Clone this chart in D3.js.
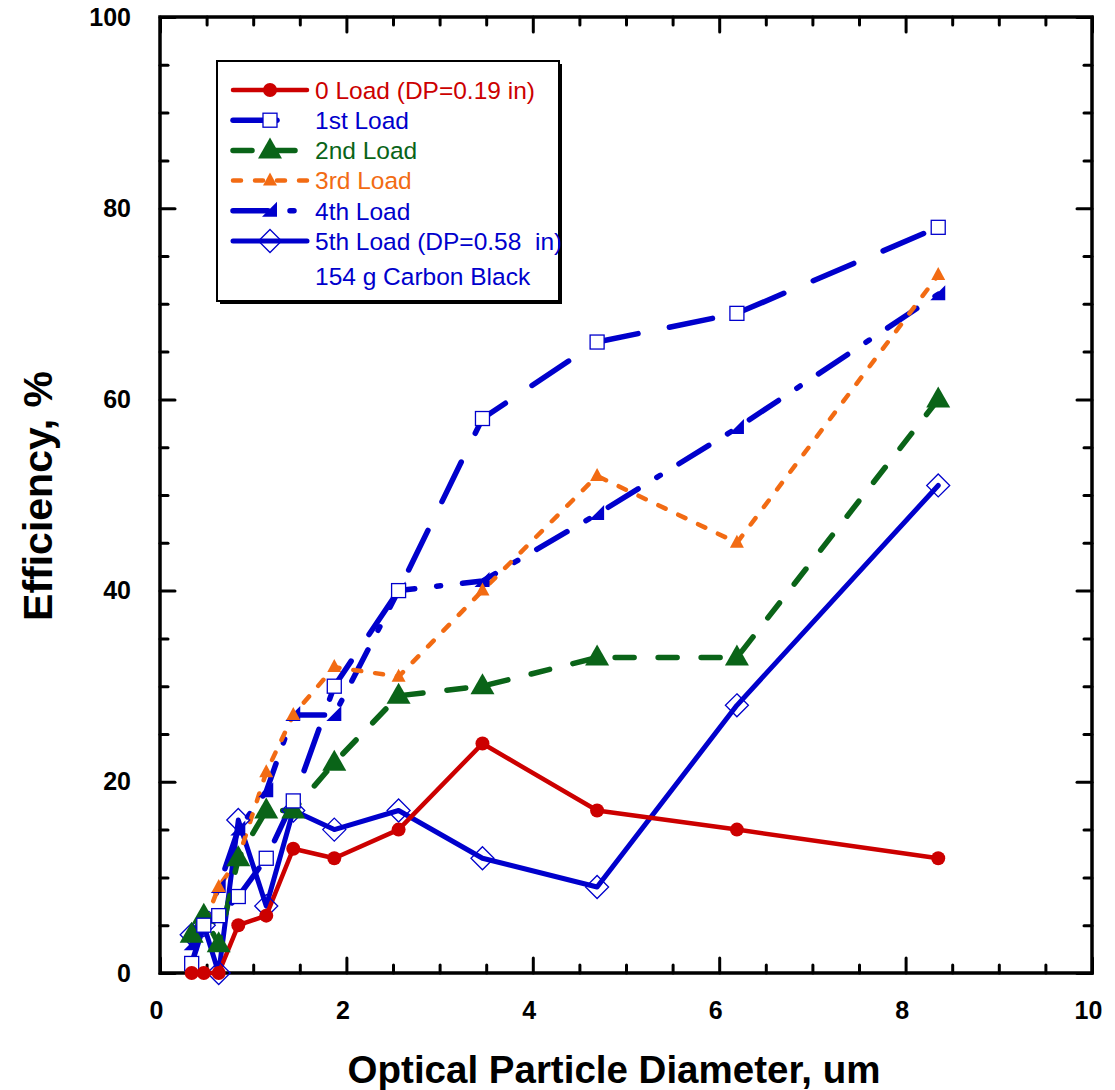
<!DOCTYPE html>
<html>
<head>
<meta charset="utf-8">
<script src="https://cdn.jsdelivr.net/npm/d3@7"></script>
<style>
  body { margin: 0; background: #fff; }
  text { font-family: "Liberation Sans", Arial, sans-serif; white-space: pre; }
</style>
</head>
<body>
<div id="chart"></div>
<script>
// optical particle diameter (um), shared by every load
const diameters = [0.34, 0.47, 0.63, 0.84, 1.14, 1.43, 1.87, 2.56, 3.46, 4.69, 6.19, 8.35];
// efficiency (%) per load
const load0 = [0, 0, 0, 5, 6, 13, 12, 15, 24, 17, 15, 12];
const load1 = [1, 5, 6, 8, 12, 18, 30, 40, 58, 66, 69, 78];
const load2 = [4, 6, 3, 12, 17, 17, 22, 29, 30, 33, 33, 60];
const load3 = [1, 5, 9, 12, 21, 27, 32, 31, 40, 52, 45, 73];
const load4 = [3, 5, 9, 15, 19, 27, 27, 40, 41, 48, 57, 71];
const load5 = [4, 5, 0, 16, 7, 17, 15, 17, 12, 9, 28, 51];
const seriesNames = ["0 Load (DP=0.19 in)", "1st Load", "2nd Load", "3rd Load", "4th Load", "5th Load (DP=0.58  in)"];
const noteText = "154 g Carbon Black";
const xTicks = [0, 2, 4, 6, 8, 10];
const yTicks = [0, 20, 40, 60, 80, 100];
const xTitle = "Optical Particle Diameter, um";
const yTitle = "Efficiency, %";

const width = 1115, height = 1090;
const plot = {left: 160, right: 1092, top: 17, bottom: 973};

// look of each load, same order as seriesNames
const looks = [
    {color: "#cc0000", dash: null,           width: 4.5, marker: "circle"},
    {color: "#0000cc", dash: "44 32",        width: 5.5, marker: "square"},
    {color: "#0a6418", dash: "19 24",        width: 5.5, marker: "triangle"},
    {color: "#f26b13", dash: "8 14",         width: 4.5, marker: "smalltri"},
    {color: "#0000cc", dash: "35 22 4 22",   width: 5.5, marker: "halftri"},
    {color: "#0000cc", dash: null,           width: 5,   marker: "diamond"}
];
const loads = [load0, load1, load2, load3, load4, load5];

const svg = d3.select("#chart").append("svg")
    .attr("width", width)
    .attr("height", height);

const x = d3.scaleLinear().domain([0, 10]).range([plot.left, plot.right]);
const y = d3.scaleLinear().domain([0, 100]).range([plot.bottom, plot.top]);

const xMinor = d3.range(0.5, 10, 0.5).filter(v => v % 2 !== 0);
const yMinor = d3.range(5, 100, 5).filter(v => v % 20 !== 0);

// axes, ticks pointing into the plot on all four sides
function styleAxis(g) {
    g.select(".domain").remove();
    g.selectAll(".tick line").attr("stroke", "#000").attr("stroke-width", 3).attr("stroke-linecap", "round");
    g.selectAll(".tick text")
        .attr("font-size", 25)
        .attr("font-weight", "bold")
        .attr("fill", "#000");
}

svg.append("g")
    .attr("transform", `translate(0,${plot.bottom})`)
    .call(d3.axisBottom(x).tickValues(xTicks).tickSizeInner(-15).tickSizeOuter(0).tickPadding(28))
    .call(styleAxis)
    .call(g => g.selectAll(".tick text").attr("dx", -4));
svg.append("g")
    .attr("transform", `translate(0,${plot.bottom})`)
    .call(d3.axisBottom(x).tickValues(xMinor).tickSizeInner(-8).tickSizeOuter(0).tickFormat(""))
    .call(styleAxis);
svg.append("g")
    .attr("transform", `translate(0,${plot.top})`)
    .call(d3.axisTop(x).tickValues(xTicks).tickSizeInner(-15).tickSizeOuter(0).tickFormat(""))
    .call(styleAxis);
svg.append("g")
    .attr("transform", `translate(0,${plot.top})`)
    .call(d3.axisTop(x).tickValues(xMinor).tickSizeInner(-8).tickSizeOuter(0).tickFormat(""))
    .call(styleAxis);

svg.append("g")
    .attr("transform", `translate(${plot.left},0)`)
    .call(d3.axisLeft(y).tickValues(yTicks).tickSizeInner(-15).tickSizeOuter(0).tickPadding(29))
    .call(styleAxis);
svg.append("g")
    .attr("transform", `translate(${plot.left},0)`)
    .call(d3.axisLeft(y).tickValues(yMinor).tickSizeInner(-8).tickSizeOuter(0).tickFormat(""))
    .call(styleAxis);
svg.append("g")
    .attr("transform", `translate(${plot.right},0)`)
    .call(d3.axisRight(y).tickValues(yTicks).tickSizeInner(-15).tickSizeOuter(0).tickFormat(""))
    .call(styleAxis);
svg.append("g")
    .attr("transform", `translate(${plot.right},0)`)
    .call(d3.axisRight(y).tickValues(yMinor).tickSizeInner(-8).tickSizeOuter(0).tickFormat(""))
    .call(styleAxis);

// plot frame
svg.append("rect")
    .attr("x", plot.left)
    .attr("y", plot.top)
    .attr("width", plot.right - plot.left)
    .attr("height", plot.bottom - plot.top)
    .attr("fill", "none")
    .attr("stroke", "#000")
    .attr("stroke-width", 3.5);

// axis titles
svg.append("text")
    .attr("x", 614)
    .attr("y", 1083)
    .attr("text-anchor", "middle")
    .attr("font-size", 38.5)
    .attr("font-weight", "bold")
    .text(xTitle);
svg.append("text")
    .attr("transform", `translate(52,496) rotate(-90)`)
    .attr("text-anchor", "middle")
    .attr("font-size", 41)
    .attr("font-weight", "bold")
    .text(yTitle);

function drawMarker(g, type, color, cx, cy) {
    if (type === "circle") {
        g.append("circle").attr("cx", cx).attr("cy", cy).attr("r", 7).attr("fill", color);
    } else if (type === "square") {
        g.append("rect").attr("x", cx - 7).attr("y", cy - 7).attr("width", 14).attr("height", 14)
            .attr("fill", "#fff").attr("stroke", color).attr("stroke-width", 1.3);
    } else if (type === "triangle") {
        g.append("path").attr("d", `M${cx},${cy - 13}L${cx + 12},${cy + 8}L${cx - 12},${cy + 8}Z`).attr("fill", color);
    } else if (type === "smalltri") {
        g.append("path").attr("d", `M${cx},${cy - 8}L${cx + 7},${cy + 5}L${cx - 7},${cy + 5}Z`).attr("fill", color);
    } else if (type === "halftri") {
        g.append("path").attr("d", `M${cx + 7},${cy - 9}L${cx + 7},${cy + 6}L${cx - 8},${cy + 6}Z`).attr("fill", color);
    } else if (type === "diamond") {
        g.append("path").attr("d", `M${cx},${cy - 11.5}L${cx + 11.5},${cy}L${cx},${cy + 11.5}L${cx - 11.5},${cy}Z`)
            .attr("fill", "#fff").attr("fill-opacity", 0).attr("stroke", color).attr("stroke-width", 1.3);
    }
}

const line = d3.line()
    .x((d, i) => x(diameters[i]))
    .y(d => y(d));

const order = [5, 4, 3, 2, 1, 0];
const linesG = svg.append("g");
order.forEach(k => {
    linesG.append("path")
        .attr("d", line(loads[k]))
        .attr("fill", "none")
        .attr("stroke", looks[k].color)
        .attr("stroke-width", looks[k].width)
        .attr("stroke-linecap", "round")
        .attr("stroke-linejoin", "round")
        .attr("stroke-dasharray", looks[k].dash);
});
const markersG = svg.append("g");
order.forEach(k => {
    loads[k].forEach((v, i) => drawMarker(markersG, looks[k].marker, looks[k].color, x(diameters[i]), y(v)));
});

// legend
const legend = svg.append("g");
legend.append("rect").attr("x", 220).attr("y", 64).attr("width", 342).attr("height", 240).attr("fill", "#000");
legend.append("rect").attr("x", 217).attr("y", 61).attr("width", 342).attr("height", 240)
    .attr("fill", "#fff").attr("stroke", "#000").attr("stroke-width", 2);

seriesNames.forEach((name, k) => {
    const ly = 90 + k * 30.2;
    legend.append("line")
        .attr("x1", 233).attr("x2", 307).attr("y1", ly).attr("y2", ly)
        .attr("stroke", looks[k].color)
        .attr("stroke-width", looks[k].width)
        .attr("stroke-linecap", "round")
        .attr("stroke-dasharray", looks[k].dash);
    drawMarker(legend, looks[k].marker, looks[k].color, 270, ly);
    legend.append("text")
        .attr("x", 315).attr("y", ly)
        .attr("dy", "0.36em")
        .attr("font-size", 24.5)
        .attr("fill", looks[k].color)
        .text(name);
});
legend.append("text")
    .attr("x", 315).attr("y", 276)
    .attr("dy", "0.36em")
    .attr("font-size", 24.5)
    .attr("fill", "#0000cc")
    .text(noteText);
</script>
</body>
</html>
